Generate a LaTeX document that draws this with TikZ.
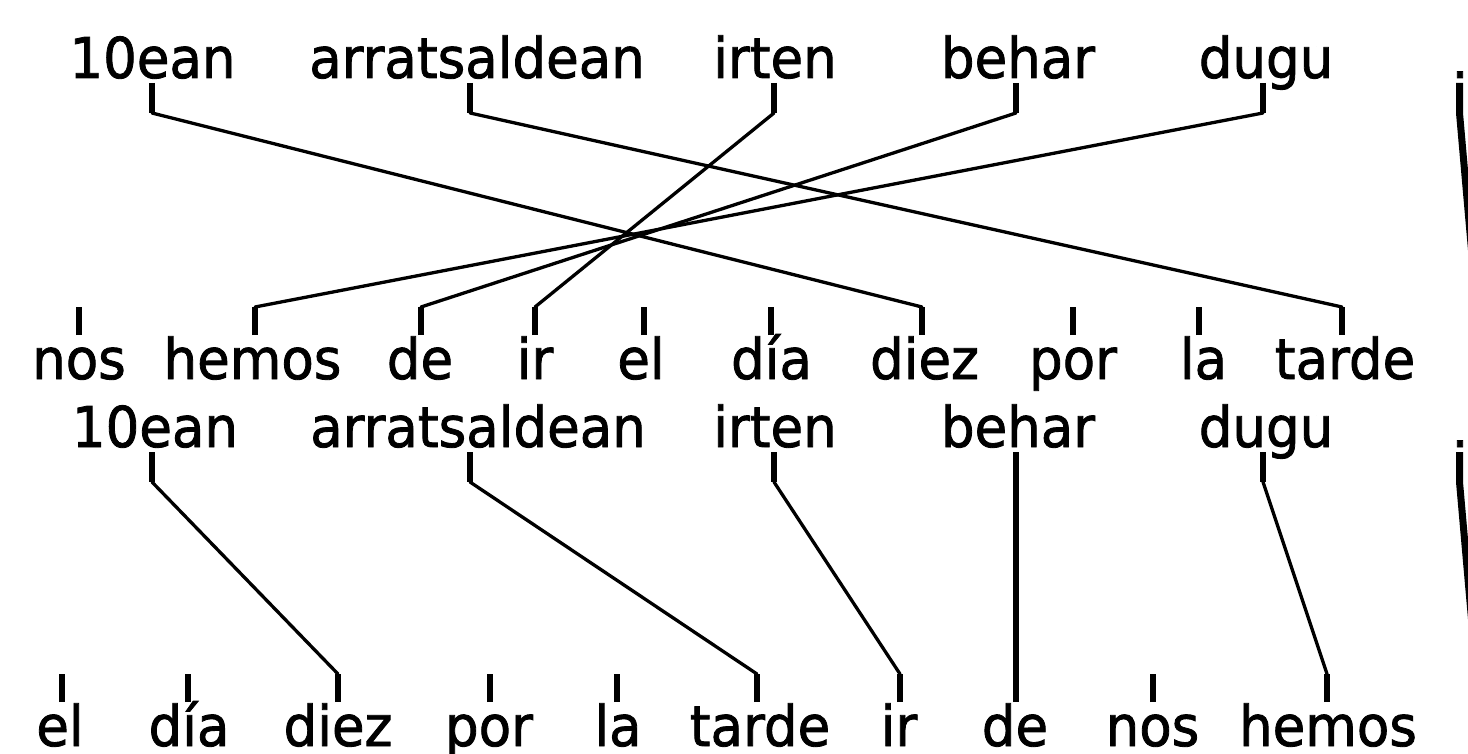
\documentclass[tikz,border=0pt]{standalone}
\usepackage{fontspec}
\setmainfont{DejaVu Sans}
\newfontfamily\wordfont[FakeBold=1.5]{DejaVu Sans}
\usetikzlibrary{calc}
\tikzset{
  word/.style={anchor=base, inner sep=0pt, outer sep=0pt, font=\wordfont\fontsize{53}{60}\selectfont},
  tickline/.style={line width=5.5pt},
  link/.style={line width=3.3pt, line join=round, line cap=round},
  vlink/.style={line width=5.5pt},
  dotlink/.style={line width=7pt, line join=miter},
}
\newcommand\tall[1]{\scalebox{1}[1.06]{#1}}
% upper row word: name, centre x, tick x, baseline y, text
\newcommand\upword[5]{%
  \node[word] (#1) at (#2,#4) {\tall{#5}};
  \coordinate (#1-a) at (#3,#4+5);
  \coordinate (#1-b) at (#3,#4+35);
  \draw[tickline] (#1-a) -- (#1-b);
}
% lower row word: name, centre x, tick x, baseline y, text
\newcommand\dnword[5]{%
  \node[word] (#1) at (#2,#4) {\tall{#5}};
  \coordinate (#1-a) at (#3,#4-44);
  \coordinate (#1-b) at (#3,#4-72);
  \draw[tickline] (#1-a) -- (#1-b);
}
\begin{document}
\begin{tikzpicture}[x=1pt,y=-1pt]
\useasboundingbox (0,0) rectangle (1468,754);
\clip (0,0) rectangle (1468,754);
\fill[white] (0,0) rectangle (1468,754);

% ---------- upper block ----------
\upword{a1}{152.5}{152}{78}{10ean}
\upword{a2}{477}{470}{78}{arratsaldean}
\upword{a3}{775}{774}{78}{irten}
\upword{a4}{1018}{1016}{78}{behar}
\upword{a5}{1266}{1263}{78}{dugu}
\node[word] (a6) at (1460,78) {.};
\coordinate (a6-a) at (1459.5,83);
\coordinate (a6-b) at (1459.5,113);
\coordinate (a6-end) at (1475,290);
\draw[dotlink] (a6-a) -- (a6-b) -- (a6-end);

\dnword{b1}{79}{79}{379}{nos}
\dnword{b2}{252.5}{255}{379}{hemos}
\dnword{b3}{420}{421}{379}{de}
\dnword{b4}{535}{535}{379}{ir}
\dnword{b5}{641}{644}{379}{el}
\dnword{b6}{771.5}{771}{379}{día}
\dnword{b7}{924.5}{922}{379}{diez}
\dnword{b8}{1073}{1073}{379}{por}
\dnword{b9}{1203.5}{1199}{379}{la}
\dnword{b10}{1345}{1342}{379}{tarde}

\draw[link] (a1-b) -- (b7-b);
\draw[link] (a2-b) -- (b10-b);
\draw[link] (a3-b) -- (b4-b);
\draw[link] (a4-b) -- (b3-b);
\draw[link] (a5-b) -- (b2-b);

% ---------- lower block ----------
\upword{c1}{155}{152}{447}{10ean}
\upword{c2}{478}{470}{447}{arratsaldean}
\upword{c3}{775}{774}{447}{irten}
\upword{c4}{1018}{1016}{447}{behar}
\upword{c5}{1266}{1263}{447}{dugu}
\node[word] (c6) at (1460,447) {.};
\coordinate (c6-a) at (1459.5,452);
\coordinate (c6-b) at (1459.5,482);
\coordinate (c6-end) at (1475,659);
\draw[dotlink] (c6-a) -- (c6-b) -- (c6-end);

\dnword{d1}{60}{62}{746}{el}
\dnword{d2}{189}{188}{746}{día}
\dnword{d3}{338}{338}{746}{diez}
\dnword{d4}{489}{490}{746}{por}
\dnword{d5}{618}{617}{746}{la}
\dnword{d6}{760}{757}{746}{tarde}
\dnword{d7}{899}{900}{746}{ir}
\dnword{d8}{1015}{1016}{746}{de}
\dnword{d9}{1152.5}{1153}{746}{nos}
\dnword{d10}{1328}{1327}{746}{hemos}

\draw[link] (c1-b) -- (d3-b);
\draw[link] (c2-b) -- (d6-b);
\draw[link] (c3-b) -- (d7-b);
\draw[vlink] (c4-b) -- (d8-b);
\draw[link] (c5-b) -- (d10-b);
\end{tikzpicture}
\end{document}
